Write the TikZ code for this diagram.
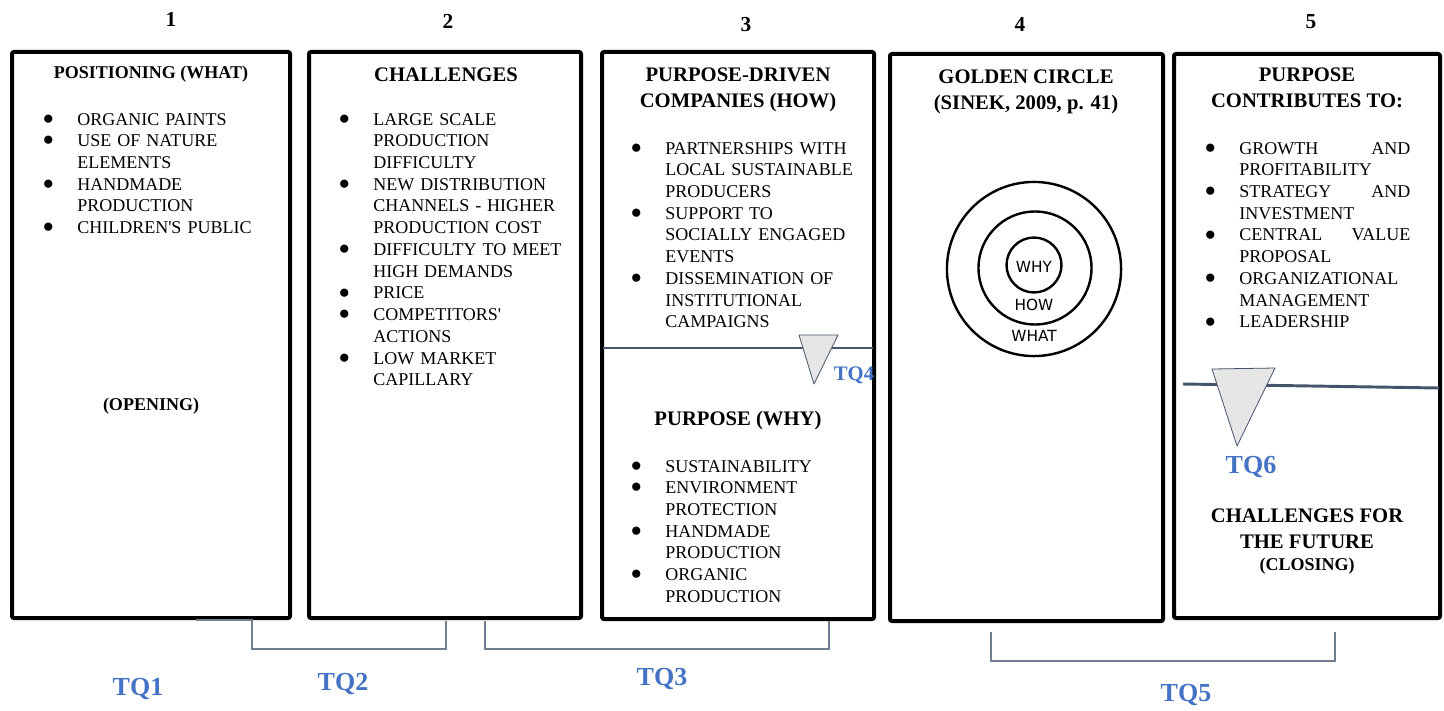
\documentclass[tikz,border=0pt]{standalone}
\usepackage{fontspec}
\setmainfont{Liberation Serif}
\newfontfamily\handfont{DejaVu Sans}
\usepackage{graphicx}
\usetikzlibrary{positioning, fit}

\definecolor{tqblue}{HTML}{4472C4}
\definecolor{slate}{HTML}{44546A}
\definecolor{bracketgray}{HTML}{6F7F8F}
\definecolor{markergray}{HTML}{E6E6E6}

% one bullet item with hanging indent
\newcommand{\bi}[1]{\hangindent=26.25pt\hangafter=1\noindent\makebox[26.25pt][l]{\raisebox{-0.29em}{\scalebox{1.9}{\textbullet}}}#1\par}

\tikzset{
  panel/.style={draw, line width=3pt, rounded corners=1.5pt, inner sep=0pt},
  head/.style={font=\fontsize{15.5}{19.5}\selectfont\bfseries, align=center, inner sep=0pt},
  smallhead/.style={font=\fontsize{13.5}{16}\selectfont\bfseries, align=center, inner sep=0pt},
  bullets/.style={anchor=base west, inner sep=0pt, text width=#1, align=left, font=\fontsize{13.5}{16.3}\selectfont},
  num/.style={font=\fontsize{16}{16}\selectfont\bfseries, inner sep=0pt},
  tq/.style={text=tqblue, font=\fontsize{19.5}{20}\selectfont\bfseries, inner sep=0pt},
  hand/.style={font=\handfont\fontsize{11.5}{12}\selectfont, inner sep=0pt},
  ring/.style={line width=1.8pt},
  bracket/.style={draw=bracketgray, line width=0.8pt},
  divider/.style={draw=slate, line width=2.2pt},
  marker/.style={draw=slate, line width=0.6pt, fill=markergray, line join=round},
}

\begin{document}
\begin{tikzpicture}[x=0.75pt, y=-0.75pt]
\useasboundingbox (0,0) rectangle (1444,710);

\node[panel, fit={(12,52) (290,618)}] (box1) {};
\node[panel, fit={(309,52) (581,618)}] (box2) {};
\node[panel, fit={(602,52) (874,619)}] (box3) {};
\node[panel, fit={(890,54) (1163,621)}] (box4) {};
\node[panel, fit={(1174,54) (1440,618)}] (box5) {};

\node[num, anchor=base] (n1) at (171,27) {1};
\node[num, anchor=base] (n2) at (448,29) {2};
\node[num, anchor=base] (n3) at (746,32) {3};
\node[num, anchor=base] (n4) at (1020,32) {4};
\node[num, anchor=base] (n5) at (1311,29) {5};

\node[smallhead, anchor=base] (what) at (151,79) {POSITIONING (WHAT)};
\node[bullets=184pt] (whatlist) at (42,125) {
  \bi{ORGANIC PAINTS}
  \bi{USE OF NATURE\newline ELEMENTS}
  \bi{HANDMADE\newline PRODUCTION}
  \bi{CHILDREN\textquotesingle S PUBLIC}};
\node[smallhead, anchor=base] (opening) at (151,410) {(OPENING)};

\node[head, anchor=base] (chal) at (446,82) {CHALLENGES};
\node[bullets=180pt] (challist) at (338,125) {
  \bi{LARGE SCALE\newline PRODUCTION\newline DIFFICULTY}
  \bi{NEW DISTRIBUTION\newline CHANNELS - HIGHER\newline PRODUCTION COST}
  \bi{DIFFICULTY TO MEET\newline HIGH DEMANDS}
  \bi{PRICE}
  \bi{COMPETITORS\textquotesingle\newline ACTIONS}
  \bi{LOW MARKET\newline CAPILLARY}};

\node[head, anchor=base] (how) at (738,108) {PURPOSE-DRIVEN\\COMPANIES (HOW)};
\node[bullets=181pt] (howlist) at (630,154) {
  \bi{PARTNERSHIPS WITH\newline LOCAL SUSTAINABLE\newline PRODUCERS}
  \bi{SUPPORT TO\newline SOCIALLY ENGAGED\newline EVENTS}
  \bi{DISSEMINATION OF\newline INSTITUTIONAL\newline CAMPAIGNS}};
\draw[divider] (603,348) -- (873,348);
\draw[marker] (799,335) -- (838,335) -- (814,384) -- cycle;
\node[tq, font=\fontsize{15.5}{16}\selectfont\bfseries, anchor=base] (tq4) at (854,380) {TQ4};
\node[head, anchor=base] (why) at (738,425) {PURPOSE (WHY)};
\node[bullets=181pt] (whylist) at (630,472) {
  \bi{SUSTAINABILITY}
  \bi{ENVIRONMENT\newline PROTECTION}
  \bi{HANDMADE\newline PRODUCTION}
  \bi{ORGANIC\newline PRODUCTION}};

\node[head, anchor=base] (golden) at (1026,109) {GOLDEN CIRCLE\\(SINEK, 2009, p. 41)};
\draw[ring] (1034,269) circle[radius=65.3pt];
\draw[ring] (1035,268) circle[radius=42.4pt];
\draw[ring] (1034,265) circle[radius=20.6pt];
\node[hand] (cwhy) at (1034,267) {WHY};
\node[hand] (chow) at (1034,305) {HOW};
\node[hand] (cwhat) at (1034,336) {WHAT};

\node[head, anchor=base] (contrib) at (1307,108) {PURPOSE\\CONTRIBUTES TO:};
\node[bullets=154.5pt] (contriblist) at (1204,154) {
  \bi{GROWTH\hfill AND\newline PROFITABILITY}
  \bi{STRATEGY\hfill AND\newline INVESTMENT}
  \bi{CENTRAL\hfill VALUE\newline PROPOSAL}
  \bi{ORGANIZATIONAL\newline MANAGEMENT}
  \bi{LEADERSHIP}};
\draw[divider] (1183,384) -- (1439,388);
\draw[marker] (1212,369) -- (1275,368) -- (1237,446) -- cycle;
\node[tq, anchor=base] (tq6) at (1251,473) {TQ6};
\node[head, anchor=base] (future) at (1307,548) {CHALLENGES FOR\\THE FUTURE};
\node[smallhead, anchor=base] (closing) at (1307,570) {(CLOSING)};

% brackets under the panels
\coordinate (q2s) at (196,620);
\coordinate (q2a) at (252,620);
\coordinate (q2b) at (446,621);
\coordinate (q3a) at (485,621);
\coordinate (q3b) at (829,621);
\coordinate (q5a) at (991,632);
\coordinate (q5b) at (1335,632);
\draw[bracket] (q2s) -- (q2a) -- ++(0,29) -| (q2b);
\draw[bracket] (q3a) -- ++(0,28) -| (q3b);
\draw[bracket] (q5a) -- ++(0,29) -| (q5b);

\node[tq, anchor=base] (tq1) at (138,695) {TQ1};
\node[tq, anchor=base] (tq2) at (343,690) {TQ2};
\node[tq, anchor=base] (tq3) at (662,685) {TQ3};
\node[tq, anchor=base] (tq5) at (1186,701) {TQ5};

\end{tikzpicture}
\end{document}
